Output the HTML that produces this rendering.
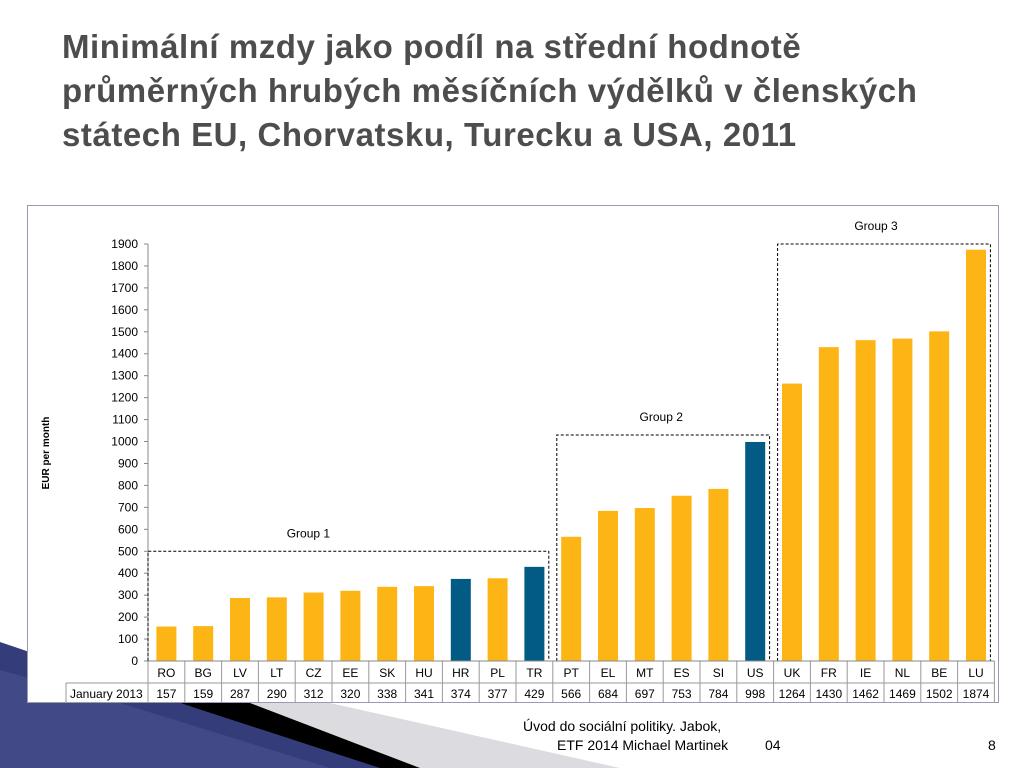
<!DOCTYPE html>
<html><head><meta charset="utf-8"><style>
body{margin:0;width:1024px;height:768px;background:#fff;overflow:hidden;position:relative;font-family:"Liberation Sans",sans-serif}
#title{position:absolute;left:62px;top:25px;font-size:33px;font-weight:bold;color:#4d4d4d;line-height:44px;letter-spacing:0.55px}
.ft{position:absolute;font-size:14px;color:#000}
svg{position:absolute;left:0;top:0}
</style></head><body>
<svg width="1024" height="768">
<polygon points="0,642 180,703 390,768 0,768" fill="#353c7a"/>
<polygon points="0,670 120,703 330,768 0,768" fill="#4a5190" opacity="0.6"/>
<polygon points="250,703 330,703 620,768 420,768" fill="#dcdce0"/>
<polygon points="180,703 250,703 420,768 380,768" fill="#000"/>
</svg>
<div id="title">Minimální mzdy jako podíl na střední hodnotě<br>průměrných hrubých měsíčních výdělků v členských<br>státech EU, Chorvatsku, Turecku a USA, 2011</div>
<svg id="chart" width="1024" height="768"></svg>
<div class="ft" style="left:523px;top:718px">Úvod do sociální politiky. Jabok,</div>
<div class="ft" style="left:557px;top:737px">ETF 2014 Michael Martinek</div>
<div class="ft" style="left:765px;top:737px">04</div>
<div class="ft" style="left:988px;top:737px">8</div>
<script>
const categories=["RO","BG","LV","LT","CZ","EE","SK","HU","HR","PL","TR","PT","EL","MT","ES","SI","US","UK","FR","IE","NL","BE","LU"];
const values=[157,159,287,290,312,320,338,341,374,377,429,566,684,697,753,784,998,1264,1430,1462,1469,1502,1874];
const highlighted=["HR","TR","US"];
const yTicks=[0,100,200,300,400,500,600,700,800,900,1000,1100,1200,1300,1400,1500,1600,1700,1800,1900];
const groupNames=["Group 1","Group 2","Group 3"];
const groupStart=[0,11,17];
const groupEnd=[10,16,22];
const groupTop=[500,1030,1900];

const svg=document.getElementById('chart');
const NS='http://www.w3.org/2000/svg';
const X0=148,CW=36.8,Y0=661,PX=417/1900;
const y=v=>Y0-v*PX;
const x=i=>X0+i*CW;
function el(t,a,txt){const e=document.createElementNS(NS,t);for(const k in a)e.setAttribute(k,a[k]);if(txt!==undefined)e.textContent=txt;svg.appendChild(e);return e;}
const fr=el('rect',{x:27.5,y:205.5,width:971,height:497,fill:'#fff',stroke:'#9a9ab0'});


const yl=el('line',{x1:X0,y1:244,x2:X0,y2:Y0,stroke:'#888'});


yTicks.forEach(t=>{
 const tk=el('line',{x1:X0-4,y1:y(t),x2:X0,y2:y(t),stroke:'#888'});
 
 
 const tl=el('text',{x:X0-10,y:y(t)+4,'text-anchor':'end','font-size':12,fill:'#000'},t);
 
 
});
const yt=el('text',{x:0,y:0,transform:'translate(49,453) rotate(-90)','text-anchor':'middle','font-size':10,'font-weight':'bold'},'EUR per month');


categories.forEach((c,i)=>{
 const bw=20,cx=x(i)+CW/2;
 const b=el('rect',{x:cx-bw/2,y:y(values[i]),width:bw,height:values[i]*PX,fill:highlighted.includes(c)?'#025b85':'#fdb515'});
 
 
 const cl=el('text',{x:cx,y:677,'text-anchor':'middle','font-size':12},c);
 
 
 const vl=el('text',{x:cx,y:698,'text-anchor':'middle','font-size':12},values[i]);
 
 
 el('line',{x1:x(i+1),y1:Y0,x2:x(i+1),y2:702,stroke:'#999'});
});
el('line',{x1:X0,y1:Y0,x2:X0,y2:702,stroke:'#999'});
el('line',{x1:66,y1:683,x2:x(23),y2:683,stroke:'#999'});
el('line',{x1:66,y1:683,x2:66,y2:702,stroke:'#999'});
const rl=el('text',{x:70,y:698,'font-size':12},'January 2013');


groupNames.forEach((g,k)=>{
 const gx1=x(groupStart[k])+(k?4:0), gx2=x(groupEnd[k]+1)-4;
 const gy=y(groupTop[k]);
 const p=el('path',{d:`M${gx1},${Y0} L${gx1},${gy} L${gx2},${gy} L${gx2},${Y0}`,fill:'none',stroke:'#000','stroke-dasharray':'3,2'});
 
 
 const gt=el('text',{x:(gx1+gx2)/2+(k==0?-40:k==1?-2:-8),y:gy-14,'text-anchor':'middle','font-size':12},g);
 
 
});
el('line',{x1:X0,y1:Y0,x2:x(23),y2:Y0,stroke:'#888'});
</script>
</body></html>
